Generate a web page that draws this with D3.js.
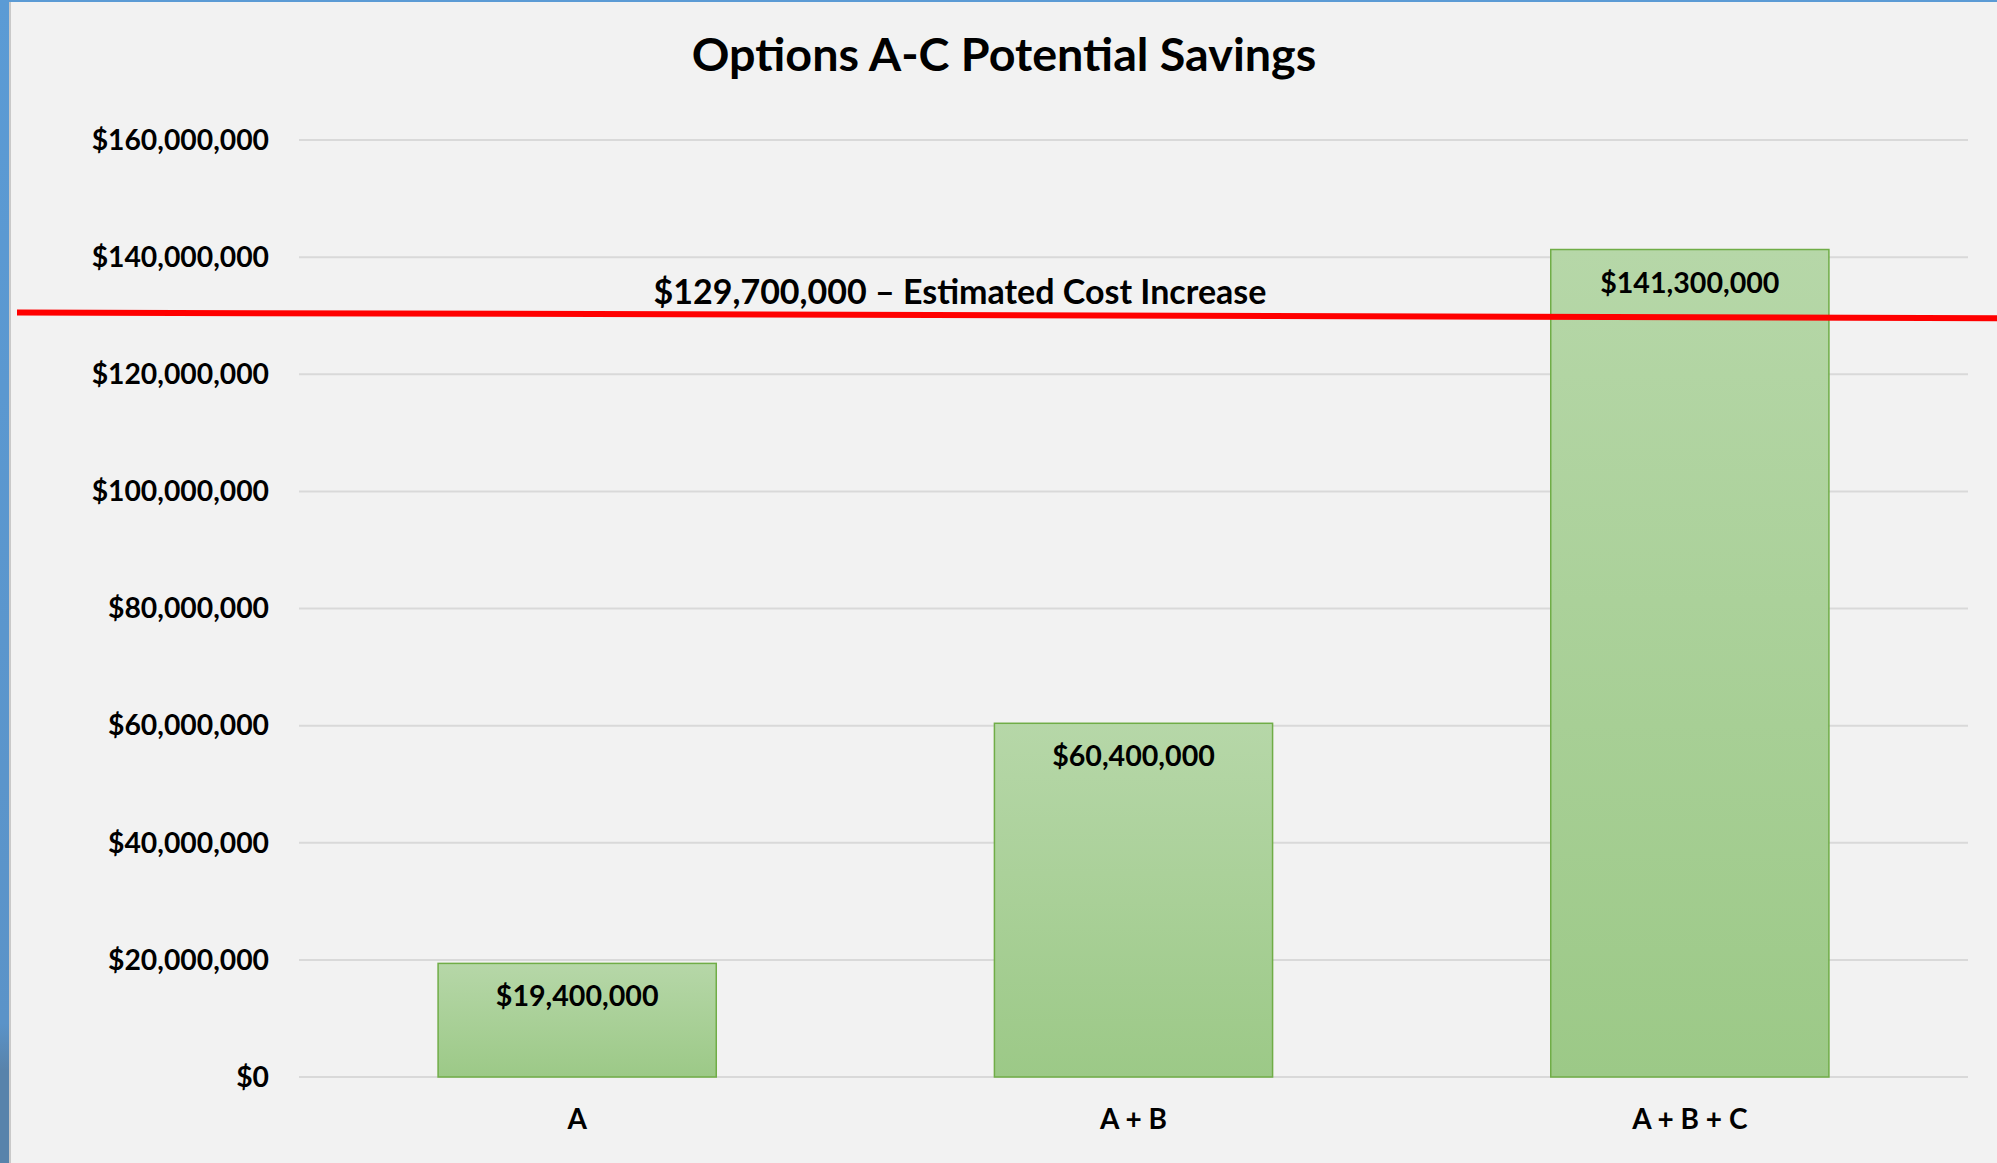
<!DOCTYPE html>
<html>
<head>
<meta charset="utf-8">
<script src="https://cdn.jsdelivr.net/npm/d3@7"></script>
<style>
  body { margin: 0; background: #f2f2f2; }
  svg { display: block; }
  text { font-family: Lato, "Open Sans", sans-serif; font-weight: bold; fill: #000; }
</style>
</head>
<body>
<main></main>
<script>
// Data
const categories = ["A", "A + B", "A + B + C"];
const savings = [19400000, 60400000, 141300000];
const yTicks = [0, 20000000, 40000000, 60000000, 80000000, 100000000, 120000000, 140000000, 160000000];
const costIncrease = 129700000;
const costLabel = "$129,700,000 \u2013 Estimated Cost Increase";
const title = "Options A-C Potential Savings";

// Dimensions
const width = 1997;
const height = 1163;
const margin = { top: 140, right: 29, bottom: 86, left: 299 };
const plotW = width - margin.left - margin.right;
const plotH = height - margin.top - margin.bottom;

const fmt = (v) => "$" + d3.format(",")(v);

const svg = d3
  .select("main")
  .append("svg")
  .attr("width", width)
  .attr("height", height);

// frame edges (window chrome around the chart)
const edge = svg.append("defs").append("linearGradient")
  .attr("id", "edge").attr("x1", 0).attr("y1", 0).attr("x2", 0).attr("y2", 1);
edge.append("stop").attr("offset", "0%").attr("stop-color", "#5b9bd5");
edge.append("stop").attr("offset", "88%").attr("stop-color", "#5b93c8");
edge.append("stop").attr("offset", "92%").attr("stop-color", "#5883ab");
edge.append("stop").attr("offset", "100%").attr("stop-color", "#5883ab");

svg.append("rect").attr("width", width).attr("height", height).attr("fill", "#f2f2f2");
svg.append("rect").attr("x", 0).attr("y", 0).attr("width", 9).attr("height", height).attr("fill", "url(#edge)");
svg.append("rect").attr("x", 9).attr("y", 0).attr("width", 2).attr("height", height).attr("fill", "#c9c9c9");
svg.append("rect").attr("x", 0).attr("y", 0).attr("width", width).attr("height", 2).attr("fill", "#5b9bd5");

// bar gradient
const barGrad = svg.select("defs").append("linearGradient")
  .attr("id", "barGrad").attr("x1", 0).attr("y1", 0).attr("x2", 0).attr("y2", 1);
barGrad.append("stop").attr("offset", "0%").attr("stop-color", "#b6d7a8");
barGrad.append("stop").attr("offset", "100%").attr("stop-color", "#9cc987");

const g = svg.append("g").attr("transform", `translate(${margin.left}, ${margin.top})`);

// Scales
const xScale = d3.scaleBand()
  .domain(categories)
  .range([0, plotW])
  .paddingInner(0.5)
  .paddingOuter(0.25);

const yScale = d3.scaleLinear()
  .domain([0, 160000000])
  .range([plotH, 0]);

// gridlines
g.append("g")
  .selectAll("line")
  .data(yTicks)
  .enter()
  .append("line")
  .attr("x1", 0)
  .attr("x2", plotW)
  .attr("y1", (d) => yScale(d))
  .attr("y2", (d) => yScale(d))
  .attr("stroke", "#d9d9d9")
  .attr("stroke-width", 2);

// y axis labels
const yAxis = d3.axisLeft(yScale).tickValues(yTicks).tickFormat(fmt).tickSize(0).tickPadding(30);
g.append("g")
  .attr("id", "y-axis")
  .call(yAxis)
  .call((s) => s.select(".domain").remove())
  .selectAll("text")
  .attr("font-family", null)
  .style("font-size", "28.3px")
  .attr("dy", "0.33em");

// x axis labels
const xAxis = d3.axisBottom(xScale).tickSize(0).tickPadding(32);
g.append("g")
  .attr("id", "x-axis")
  .attr("transform", `translate(0, ${plotH})`)
  .call(xAxis)
  .call((s) => s.select(".domain").remove())
  .selectAll("text")
  .attr("font-family", null)
  .style("font-size", "28px");

// bars
g.selectAll(".bar")
  .data(savings)
  .enter()
  .append("rect")
  .attr("class", "bar")
  .attr("x", (d, i) => xScale(categories[i]))
  .attr("y", (d) => yScale(d))
  .attr("width", xScale.bandwidth())
  .attr("height", (d) => plotH - yScale(d))
  .attr("fill", "url(#barGrad)")
  .attr("stroke", "#70ad47")
  .attr("stroke-width", 1.5);

// bar labels
g.selectAll(".bar-label")
  .data(savings)
  .enter()
  .append("text")
  .attr("class", "bar-label")
  .attr("x", (d, i) => xScale(categories[i]) + xScale.bandwidth() / 2)
  .attr("y", (d) => yScale(d) + 43)
  .attr("text-anchor", "middle")
  .style("font-size", "28.6px")
  .text(fmt);

// cost increase line, drawn across the whole frame with a slight tilt
const costY = margin.top + yScale(costIncrease);
svg.append("line")
  .attr("x1", 17)
  .attr("x2", width)
  .attr("y1", costY - 5)
  .attr("y2", costY + 0.7)
  .attr("stroke", "#ff0000")
  .attr("stroke-width", 6);

svg.append("text")
  .attr("x", 960)
  .attr("y", costY - 13)
  .attr("text-anchor", "middle")
  .style("font-size", "34px")
  .text(costLabel);

// title
svg.append("text")
  .attr("x", 1004)
  .attr("y", 71)
  .attr("text-anchor", "middle")
  .style("font-size", "46.7px")
  .text(title);
</script>
</body>
</html>
